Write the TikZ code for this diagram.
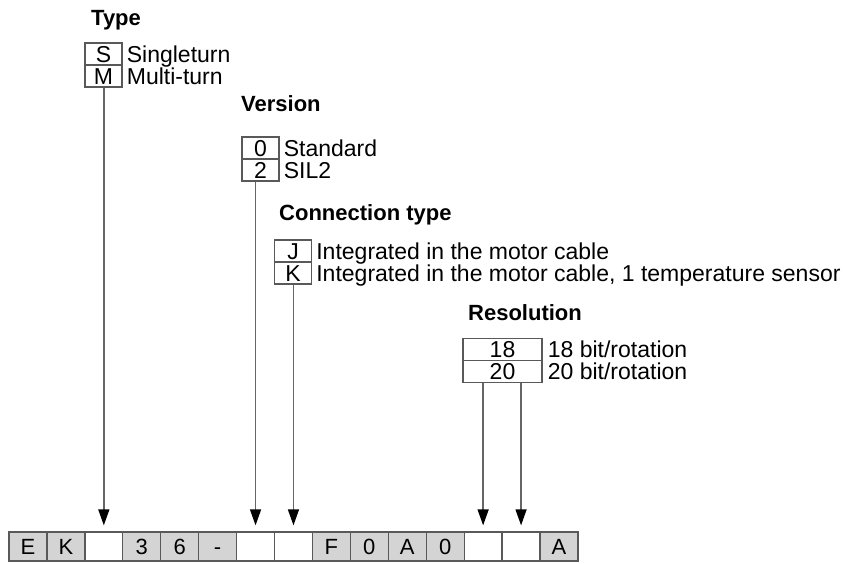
\documentclass[tikz,border=0pt]{standalone}
\usepackage{fontspec}
\setmainfont{Liberation Sans}
\usetikzlibrary{arrows.meta,positioning}

\definecolor{linegray}{gray}{0.35}
\definecolor{cellgray}{gray}{0.83}

\begin{document}
\begin{tikzpicture}[
    >={Triangle[length=16pt,width=11pt,color=black]},
    x=1pt,y=-1pt,
    codebox/.style={
        draw=linegray,line width=1.3pt,inner sep=0pt,
        minimum width=37pt,minimum height=22pt,
        text height=16.5pt,text depth=0pt,
        font=\fontsize{23}{24}\selectfont,
    },
    desc/.style={
        inner sep=0pt,text height=16.5pt,text depth=0pt,
        font=\fontsize{23}{24}\selectfont,
    },
    heading/.style={
        anchor=base west,inner sep=0pt,
        font=\bfseries\fontsize{22}{24}\selectfont,
    },
    cell/.style={
        draw=linegray,line width=1.3pt,inner sep=0pt,
        minimum width=37.93pt,minimum height=29pt,
        text height=15.5pt,text depth=0pt,
        font=\fontsize{22}{24}\selectfont,
    },
    conn/.style={draw=black!60,line width=1.4pt,->,shorten >=6pt},
]
    \useasboundingbox (0,0) rectangle (845,563);

    % type code
    \foreach \ch/\fc [count=\i] in {E/cellgray,K/cellgray,{}/white,3/cellgray,
        6/cellgray,-/cellgray,{}/white,{}/white,F/cellgray,0/cellgray,
        A/cellgray,0/cellgray,{}/white,{}/white,A/cellgray}{%
        \node[cell,fill=\fc] (c\i) at ({9+37.93*(\i-0.5)},546.5) {\ch};
    }

    % type
    \node[heading] (typehead) at (91,25) {Type};
    \node[codebox] (typeS) at (103.5,54) {S};
    \node[codebox] (typeM) at (103.5,76) {M};
    \node[desc,right=4pt of typeS] (typeSdesc) {Singleturn};
    \node[desc,right=4pt of typeM] (typeMdesc) {Multi-turn};

    % version
    \node[heading] (verhead) at (241,111) {Version};
    \node[codebox] (ver0) at (260.5,148) {0};
    \node[codebox] (ver2) at (260.5,170) {2};
    \node[desc,right=4pt of ver0] (ver0desc) {Standard};
    \node[desc,right=4pt of ver2] (ver2desc) {SIL2};

    % connection type
    \node[heading] (conhead) at (279,220) {Connection type};
    \node[codebox] (conJ) at (293,251) {J};
    \node[codebox] (conK) at (293,273) {K};
    \node[desc,right=4pt of conJ] (conJdesc) {Integrated in the motor cable};
    \node[desc,right=4pt of conK] (conKdesc)
        {Integrated in the motor cable, 1 temperature sensor};

    % resolution
    \node[heading] (reshead) at (468,320) {Resolution};
    \node[codebox,minimum width=79pt] (res18) at (502.5,349.5) {18};
    \node[codebox,minimum width=79pt] (res20) at (502.5,371.5) {20};
    \node[desc,right=5pt of res18] (res18desc) {18 bit/rotation};
    \node[desc,right=5pt of res20] (res20desc) {20 bit/rotation};

    \draw[conn] (c3 |- typeM.south) -- (c3.north);
    \draw[conn] (c7 |- ver2.south) -- (c7.north);
    \draw[conn] (c8 |- conK.south) -- (c8.north);
    \draw[conn] (c13 |- res20.south) -- (c13.north);
    \draw[conn] (c14 |- res20.south) -- (c14.north);
\end{tikzpicture}
\end{document}
